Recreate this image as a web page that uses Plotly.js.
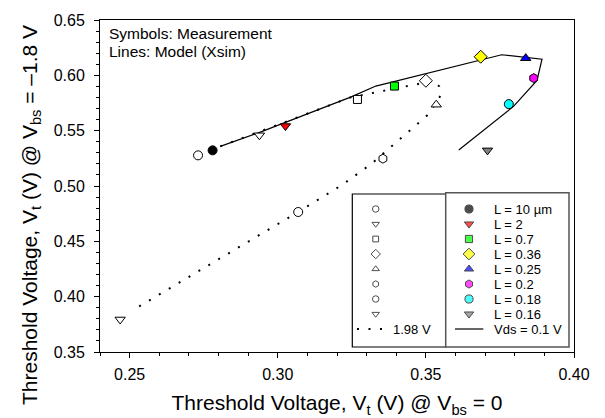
<!DOCTYPE html>
<html>
<head>
<meta charset="utf-8">
<script src="https://cdn.plot.ly/plotly-3.0.1.min.js"></script>
<style>html,body{margin:0;padding:0;background:#fff;}#chart{width:605px;height:418px;}</style>
</head>
<body>
<div id="chart"></div>
<script>
// ---- data ----
var lengths = ["L = 10 \u00b5m", "L = 2", "L = 0.7", "L = 0.36", "L = 0.25", "L = 0.2", "L = 0.18", "L = 0.16"];
var symbols = ["circle", "triangle-down", "square", "diamond", "triangle-up", "hexagon", "circle", "triangle-down"];
var fillColors = ["#000000", "#ff0000", "#00ff00", "#ffff00", "#0000ff", "#ff00ff", "#00ffff", "#808080"];
// Measurement, Vds = 0.1 V (filled symbols)
var vt0_low = [0.2780, 0.3026, 0.3394, 0.3685, 0.3837, 0.3864, 0.3780, 0.3708];
var vt18_low = [0.5322, 0.5542, 0.5903, 0.6168, 0.6155, 0.5975, 0.5740, 0.5322];
// Measurement, Vds = 1.98 V (open symbols)
var vt0_high = [0.2731, 0.2938, 0.3269, 0.3500, 0.3535, 0.3355, 0.3069, 0.2468];
var vt18_high = [0.5277, 0.5458, 0.5782, 0.5951, 0.5735, 0.5247, 0.4765, 0.3794];
// Model (Xsim) lines
var model_low_x = [0.2806, 0.2941, 0.3246, 0.3331, 0.3756, 0.3892, 0.3875, 0.3796, 0.3611];
var model_low_y = [0.5358, 0.5487, 0.5803, 0.5903, 0.6186, 0.6146, 0.5954, 0.5719, 0.5325];
var model_high_x = [0.2806, 0.3246, 0.3449, 0.3527, 0.3545, 0.3550, 0.3511, 0.3416, 0.3317, 0.3220, 0.3069, 0.2507];
var model_high_y = [0.5358, 0.5801, 0.5909, 0.5948, 0.5900, 0.5819, 0.5653, 0.5428, 0.5202, 0.5015, 0.4765, 0.3872];
var xTicks = [0.25, 0.30, 0.35, 0.40];
var yTicks = [0.35, 0.40, 0.45, 0.50, 0.55, 0.60, 0.65];
var labelHigh = "1.98 V";
var labelLow = "Vds = 0.1 V";

// ---- styling ----
var FONT = "Liberation Sans, Arial, Helvetica, sans-serif";
var sizeFor = {"circle": 9, "triangle-down": 9, "triangle-up": 9, "square": 8, "diamond": 10, "hexagon": 9};
var DOT = "2px,9.5px";
var W = 605, H = 418, ML = 100, MR = 31, MT = 20, MB = 66;
var PW = W - ML - MR, PH = H - MT - MB;
function px(x) { return (x - ML) / PW; }
function py(y) { return (MT + PH - y) / PH; }

var traces = [];
traces.push({x: model_high_x, y: model_high_y, mode: "lines", line: {color: "#000", width: 2, dash: DOT}, name: labelHigh, showlegend: false, hoverinfo: "skip"});
traces.push({x: model_low_x, y: model_low_y, mode: "lines", line: {color: "#000", width: 1.2}, name: labelLow, showlegend: false, hoverinfo: "skip"});
for (var i = 0; i < lengths.length; i++) {
  traces.push({x: [vt0_high[i]], y: [vt18_high[i]], mode: "markers", name: lengths[i] + " (1.98 V)", showlegend: false,
    marker: {symbol: symbols[i], size: sizeFor[symbols[i]], color: "#ffffff", line: {color: "#000", width: 1}}});
  traces.push({x: [vt0_low[i]], y: [vt18_low[i]], mode: "markers", name: lengths[i], showlegend: false,
    marker: {symbol: symbols[i], size: sizeFor[symbols[i]], color: fillColors[i], line: {color: "#000", width: 1}}});
}

// ---- hand-built two-box legend (layout constants) ----
var rowTop = 209, rowStep = 15;
var lgLeftX = 375.7, lgRightX = 469, lgTextX = 491.7;
var legLX = [], legLY = [], legRX = [], legRY = [];
for (var j = 0; j < lengths.length; j++) {
  legLX.push(px(lgLeftX)); legLY.push(py(rowTop + j * rowStep));
  legRX.push(px(lgRightX)); legRY.push(py(rowTop + j * rowStep));
}
traces.push({x: legLX, y: legLY, xaxis: "x2", yaxis: "y2", mode: "markers", showlegend: false, hoverinfo: "skip",
  marker: {symbol: symbols, size: symbols.map(function(s){return sizeFor[s] * 0.72;}), color: "#fff", line: {color: "#000", width: 1}}});
traces.push({x: legRX, y: legRY, xaxis: "x2", yaxis: "y2", mode: "markers", showlegend: false, hoverinfo: "skip",
  marker: {symbol: symbols, size: symbols.map(function(s){return sizeFor[s] * 0.9;}), color: fillColors, line: {color: "#000", width: 1}}});

var lastRow = rowTop + lengths.length * rowStep;
var shapes = [
  {type: "rect", xref: "paper", yref: "paper", x0: px(352.3), x1: px(445.7), y0: py(347), y1: py(194), line: {color: "#000", width: 1.2}, fillcolor: "#fff", layer: "below"},
  {type: "rect", xref: "paper", yref: "paper", x0: px(445.7), x1: px(569), y0: py(347), y1: py(192.7), line: {color: "#555", width: 1.5}, fillcolor: "#fff", layer: "below"},
  {type: "line", xref: "paper", yref: "paper", x0: px(357), x1: px(389), y0: py(lastRow), y1: py(lastRow), line: {color: "#000", width: 2, dash: DOT}},
  {type: "line", xref: "paper", yref: "paper", x0: px(455), x1: px(483.3), y0: py(lastRow), y1: py(lastRow), line: {color: "#000", width: 1.2}}
];

var annotations = [
  {xref: "paper", yref: "paper", x: px(107), y: py(33.8), xanchor: "left", yanchor: "middle", showarrow: false, text: "Symbols: Measurement", font: {family: FONT, size: 15.5, color: "#000"}},
  {xref: "paper", yref: "paper", x: px(107), y: py(52), xanchor: "left", yanchor: "middle", showarrow: false, text: "Lines: Model (Xsim)", font: {family: FONT, size: 15.5, color: "#000"}},
  {xref: "paper", yref: "paper", x: px(31), y: py(215), xanchor: "center", yanchor: "middle", showarrow: false, textangle: -90,
    text: "Threshold Voltage, V<sub>t</sub> (V) @ V<sub>bs</sub> = \u20131.8 V", font: {family: FONT, size: 21, color: "#000"}},
  {xref: "paper", yref: "paper", x: px(390.5), y: py(lastRow), xanchor: "left", yanchor: "middle", showarrow: false, text: labelHigh, font: {family: FONT, size: 13, color: "#000"}},
  {xref: "paper", yref: "paper", x: px(lgTextX), y: py(lastRow), xanchor: "left", yanchor: "middle", showarrow: false, text: labelLow, font: {family: FONT, size: 13, color: "#000"}}
];
for (var k = 0; k < lengths.length; k++) {
  annotations.push({xref: "paper", yref: "paper", x: px(lgTextX), y: py(rowTop + k * rowStep), xanchor: "left", yanchor: "middle", showarrow: false,
    text: lengths[k], font: {family: FONT, size: 13, color: "#000"}});
}

var axisCommon = {
  showgrid: false, zeroline: false, showline: true, linecolor: "#000", linewidth: 1, mirror: true,
  ticks: "outside", ticklen: 5, tickwidth: 1, tickcolor: "#000", tickformat: ".2f",
  tickfont: {family: FONT, size: 16, color: "#000"},
  minor: {dtick: 0.01, ticks: "outside", ticklen: 3, tickwidth: 1, tickcolor: "#000", showgrid: false}
};

var layout = {
  width: W, height: H,
  margin: {l: ML, r: MR, t: MT, b: MB, pad: 0},
  paper_bgcolor: "#fff", plot_bgcolor: "#fff",
  showlegend: false,
  font: {family: FONT, color: "#000"},
  xaxis: Object.assign({}, axisCommon, {range: [0.24, 0.40], tickvals: xTicks, ticklabelstandoff: 3,
    title: {text: "Threshold Voltage, V<sub>t</sub> (V) @ V<sub>bs</sub> = 0", font: {family: FONT, size: 21, color: "#000"}, standoff: 13}}),
  yaxis: Object.assign({}, axisCommon, {range: [0.35, 0.65], tickvals: yTicks, ticklabelstandoff: 6}),
  xaxis2: {domain: [0, 1], range: [0, 1], visible: false, overlaying: "x", fixedrange: true},
  yaxis2: {domain: [0, 1], range: [0, 1], visible: false, overlaying: "y", fixedrange: true},
  shapes: shapes,
  annotations: annotations
};

Plotly.newPlot("chart", traces, layout, {staticPlot: true, displayModeBar: false});
</script>
</body>
</html>
